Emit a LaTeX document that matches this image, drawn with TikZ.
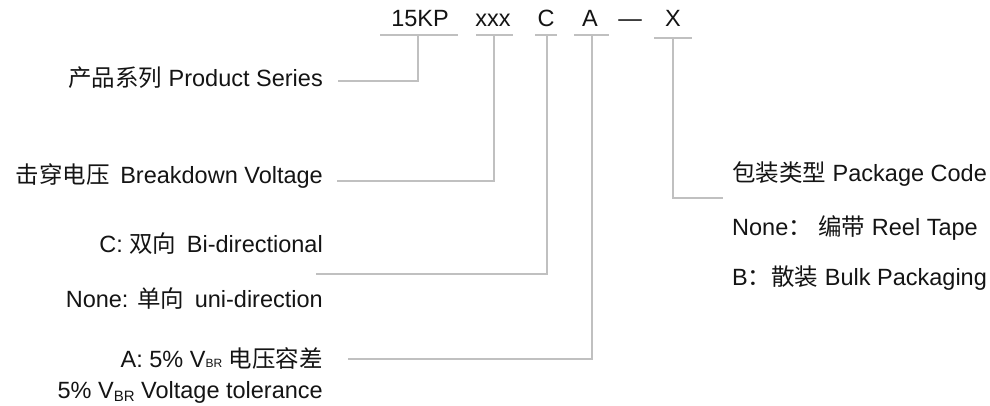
\documentclass[tikz,border=0pt]{standalone}
\usepackage{fontspec}
\setmainfont{Liberation Sans}
\newfontfamily\cjk{Noto Sans CJK SC}
\definecolor{linegray}{RGB}{192,192,192}
\definecolor{txtcol}{RGB}{20,20,20}
\newcommand{\subBRa}{{\fontsize{12}{12}\selectfont BR}}
\newcommand{\subBRb}{\raisebox{-3.5pt}{\fontsize{15}{15}\selectfont BR}}
\begin{document}
\begin{tikzpicture}[x=1pt,y=-1pt,
  lbl/.style={inner sep=0pt, font=\fontsize{23.5}{28}\selectfont, text=txtcol},
  conn/.style={draw=linegray, line width=1.8pt}]
\useasboundingbox (0,0) rectangle (990,406);

% top code
\node[lbl, anchor=base] (t15)  at (420,27) {15KP};
\node[lbl, anchor=base] (txxx) at (493,27) {xxx};
\node[lbl, anchor=base] (tC)   at (546,27) {C};
\node[lbl, anchor=base] (tA)   at (590,27) {A};
\node[lbl, anchor=base] (tdash) at (630,27) {—};
\node[lbl, anchor=base] (tX)   at (673,27) {X};

% underlines
\draw[conn] (380,35) -- (458,35);
\draw[conn] (476,35) -- (513,35);
\draw[conn] (535,35) -- (557,35);
\draw[conn] (574,35) -- (609,35);
\draw[conn] (654,38) -- (692,38);
\coordinate (u15) at (418,35);
\coordinate (uxxx) at (494,35);
\coordinate (uC) at (547,35);
\coordinate (uA) at (592,35);
\coordinate (uX) at (673,38);

% left labels
\node[lbl, anchor=base east] (ps) at (323,87) {{\cjk 产品系列} Product Series};
\node[lbl, anchor=base east] (bv) at (323,184) {{\cjk 击穿电压}\hspace{0.45em}Breakdown Voltage};
\node[lbl, anchor=base east] (bi) at (323,252) {C: {\cjk 双向}\hspace{0.45em}Bi-directional};
\node[lbl, anchor=base east] (uni) at (323,307) {None: {\cjk 单向}\hspace{0.45em}uni-direction};
\node[lbl, anchor=base east] (va) at (323,367) {A: 5\% V\subBRa{} {\cjk 电压容差}};
\node[lbl, anchor=base east] (vt) at (323,398) {5\% V\subBRb{} Voltage tolerance};

% right labels
\node[lbl, anchor=base west] (pc) at (732,182) {{\cjk 包装类型} Package Code};
\node[lbl, anchor=base west] (rt) at (732,235) {None{\cjk ：} {\cjk 编带} Reel Tape};
\node[lbl, anchor=base west] (bp) at (732,285) {B{\cjk ：}{\cjk 散装} Bulk Packaging};

% connector ends
\coordinate (e15) at (338,81);
\coordinate (exxx) at (337,181);
\coordinate (eC) at (316,274);
\coordinate (eA) at (348,359);
\coordinate (eX) at (723,198);

\draw[conn] (u15) |- (e15);
\draw[conn] (uxxx) |- (exxx);
\draw[conn] (uC) |- (eC);
\draw[conn] (uA) |- (eA);
\draw[conn] (uX) |- (eX);
\end{tikzpicture}
\end{document}
